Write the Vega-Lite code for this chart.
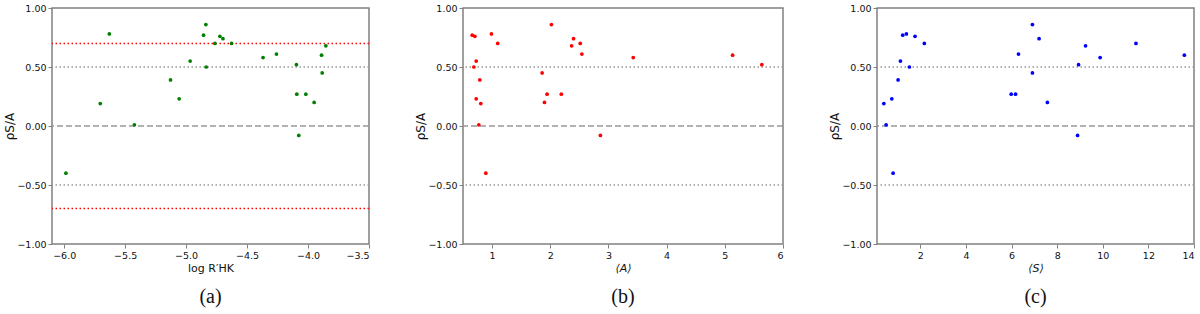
{
  "$schema": "https://vega.github.io/schema/vega-lite/v6.json",
  "background": "white",
  "padding": {"left": 3, "top": 2, "right": 0, "bottom": 0},
  "autosize": {"type": "pad"},
  "datasets": {
    "pa": [
      {"logRHK": -5.986, "rho": -0.40},
      {"logRHK": -5.704, "rho": 0.19},
      {"logRHK": -5.630, "rho": 0.78},
      {"logRHK": -5.424, "rho": 0.01},
      {"logRHK": -5.128, "rho": 0.39},
      {"logRHK": -5.057, "rho": 0.23},
      {"logRHK": -4.967, "rho": 0.55},
      {"logRHK": -4.857, "rho": 0.77},
      {"logRHK": -4.838, "rho": 0.86},
      {"logRHK": -4.835, "rho": 0.50},
      {"logRHK": -4.764, "rho": 0.70},
      {"logRHK": -4.723, "rho": 0.76},
      {"logRHK": -4.698, "rho": 0.74},
      {"logRHK": -4.627, "rho": 0.70},
      {"logRHK": -4.369, "rho": 0.58},
      {"logRHK": -4.259, "rho": 0.61},
      {"logRHK": -4.095, "rho": 0.52},
      {"logRHK": -4.092, "rho": 0.27},
      {"logRHK": -4.076, "rho": -0.08},
      {"logRHK": -4.018, "rho": 0.27},
      {"logRHK": -3.950, "rho": 0.20},
      {"logRHK": -3.889, "rho": 0.60},
      {"logRHK": -3.884, "rho": 0.45},
      {"logRHK": -3.854, "rho": 0.68}
    ],
    "pb": [
      {"A": 0.658, "rho": 0.77},
      {"A": 0.704, "rho": 0.76},
      {"A": 0.687, "rho": 0.50},
      {"A": 0.727, "rho": 0.55},
      {"A": 0.789, "rho": 0.39},
      {"A": 0.727, "rho": 0.23},
      {"A": 0.806, "rho": 0.19},
      {"A": 0.772, "rho": 0.01},
      {"A": 0.892, "rho": -0.40},
      {"A": 0.989, "rho": 0.78},
      {"A": 1.097, "rho": 0.70},
      {"A": 1.860, "rho": 0.45},
      {"A": 1.900, "rho": 0.20},
      {"A": 1.945, "rho": 0.27},
      {"A": 2.020, "rho": 0.86},
      {"A": 2.190, "rho": 0.27},
      {"A": 2.367, "rho": 0.68},
      {"A": 2.400, "rho": 0.74},
      {"A": 2.515, "rho": 0.70},
      {"A": 2.543, "rho": 0.61},
      {"A": 2.862, "rho": -0.08},
      {"A": 3.426, "rho": 0.58},
      {"A": 5.134, "rho": 0.60},
      {"A": 5.636, "rho": 0.52}
    ],
    "pc": [
      {"S": 0.40, "rho": 0.19},
      {"S": 0.50, "rho": 0.01},
      {"S": 0.749, "rho": 0.23},
      {"S": 0.807, "rho": -0.40},
      {"S": 1.025, "rho": 0.39},
      {"S": 1.127, "rho": 0.55},
      {"S": 1.229, "rho": 0.77},
      {"S": 1.389, "rho": 0.78},
      {"S": 1.520, "rho": 0.50},
      {"S": 1.767, "rho": 0.76},
      {"S": 2.175, "rho": 0.70},
      {"S": 5.985, "rho": 0.27},
      {"S": 6.175, "rho": 0.27},
      {"S": 6.305, "rho": 0.61},
      {"S": 6.916, "rho": 0.86},
      {"S": 6.916, "rho": 0.45},
      {"S": 7.207, "rho": 0.74},
      {"S": 7.571, "rho": 0.20},
      {"S": 8.895, "rho": -0.08},
      {"S": 8.938, "rho": 0.52},
      {"S": 9.244, "rho": 0.68},
      {"S": 9.884, "rho": 0.58},
      {"S": 11.455, "rho": 0.70},
      {"S": 13.578, "rho": 0.60}
    ],
    "refs": [
      {"rho": 0.5, "style": "dotted"},
      {"rho": -0.5, "style": "dotted"},
      {"rho": 0.0, "style": "dashed"}
    ],
    "red": [
      {"rho": 0.7},
      {"rho": -0.7}
    ]
  },
  "bounds": "flush",
  "spacing": 94,
  "hconcat": [
    {
      "width": 317,
      "height": 236,
      "title": {"text": "(a)"},
      "layer": [
        {
          "data": {"name": "refs"},
          "transform": [{"filter": "datum.style === 'dotted'"}],
          "mark": {"type": "rule", "color": "#999999", "strokeDash": [1.5, 2.5], "strokeWidth": 1.5},
          "encoding": {
            "y": {"field": "rho", "type": "quantitative", "scale": {"domain": [-1, 1], "nice": false},
                  "axis": {"values": [-1, -0.75, -0.5, -0.25, 0, 0.25, 0.5, 0.75, 1], "format": ".2f", "title": "ρS/A"}}
          }
        },
        {
          "data": {"name": "refs"},
          "transform": [{"filter": "datum.style === 'dashed'"}],
          "mark": {"type": "rule", "color": "#999999", "strokeDash": [6, 3], "strokeWidth": 1.5},
          "encoding": {"y": {"field": "rho", "type": "quantitative"}}
        },
        {
          "data": {"name": "red"},
          "mark": {"type": "rule", "color": "#ff0000", "strokeDash": [1.5, 2.5], "strokeWidth": 1.5},
          "encoding": {"y": {"field": "rho", "type": "quantitative"}}
        },
        {
          "data": {"name": "pa"},
          "mark": {"type": "circle", "color": "#008000", "opacity": 1, "size": 14},
          "encoding": {
            "x": {"field": "logRHK", "type": "quantitative", "scale": {"domain": [-6.1, -3.5], "nice": false, "zero": false},
                  "axis": {"values": [-6, -5.5, -5, -4.5, -4, -3.5], "format": ".1f", "title": "log R′HK"}},
            "y": {"field": "rho", "type": "quantitative"}
          }
        }
      ]
    },
    {
      "width": 320,
      "height": 236,
      "title": {"text": "(b)"},
      "layer": [
        {
          "data": {"name": "refs"},
          "transform": [{"filter": "datum.style === 'dotted'"}],
          "mark": {"type": "rule", "color": "#999999", "strokeDash": [1.5, 2.5], "strokeWidth": 1.5},
          "encoding": {
            "y": {"field": "rho", "type": "quantitative", "scale": {"domain": [-1, 1], "nice": false},
                  "axis": {"values": [-1, -0.75, -0.5, -0.25, 0, 0.25, 0.5, 0.75, 1], "format": ".2f", "title": "ρS/A"}}
          }
        },
        {
          "data": {"name": "refs"},
          "transform": [{"filter": "datum.style === 'dashed'"}],
          "mark": {"type": "rule", "color": "#999999", "strokeDash": [6, 3], "strokeWidth": 1.5},
          "encoding": {"y": {"field": "rho", "type": "quantitative"}}
        },
        {
          "data": {"name": "pb"},
          "mark": {"type": "circle", "color": "#ff0000", "opacity": 1, "size": 14},
          "encoding": {
            "x": {"field": "A", "type": "quantitative", "scale": {"domain": [0.5, 6], "nice": false, "zero": false},
                  "axis": {"values": [1, 2, 3, 4, 5, 6], "format": "d", "title": "⟨A⟩", "titleFontStyle": "italic"}},
            "y": {"field": "rho", "type": "quantitative"}
          }
        }
      ]
    },
    {
      "width": 317,
      "height": 236,
      "title": {"text": "(c)"},
      "layer": [
        {
          "data": {"name": "refs"},
          "transform": [{"filter": "datum.style === 'dotted'"}],
          "mark": {"type": "rule", "color": "#999999", "strokeDash": [1.5, 2.5], "strokeWidth": 1.5},
          "encoding": {
            "y": {"field": "rho", "type": "quantitative", "scale": {"domain": [-1, 1], "nice": false},
                  "axis": {"values": [-1, -0.75, -0.5, -0.25, 0, 0.25, 0.5, 0.75, 1], "format": ".2f", "title": "ρS/A"}}
          }
        },
        {
          "data": {"name": "refs"},
          "transform": [{"filter": "datum.style === 'dashed'"}],
          "mark": {"type": "rule", "color": "#999999", "strokeDash": [6, 3], "strokeWidth": 1.5},
          "encoding": {"y": {"field": "rho", "type": "quantitative"}}
        },
        {
          "data": {"name": "pc"},
          "mark": {"type": "circle", "color": "#0000ff", "opacity": 1, "size": 14},
          "encoding": {
            "x": {"field": "S", "type": "quantitative", "scale": {"domain": [0.1, 14], "nice": false, "zero": false},
                  "axis": {"values": [2, 4, 6, 8, 10, 12, 14], "format": "d", "title": "⟨S⟩", "titleFontStyle": "italic"}},
            "y": {"field": "rho", "type": "quantitative"}
          }
        }
      ]
    }
  ],
  "config": {
    "view": {"stroke": "#808080", "strokeWidth": 1.5},
    "axis": {
      "grid": false,
      "domain": false,
      "tickColor": "#808080",
      "tickSize": 4,
      "tickWidth": 1,
      "labelFont": "DejaVu Sans",
      "labelFontSize": 9.5,
      "labelColor": "#111111",
      "labelPadding": 2,
      "titleFont": "DejaVu Sans",
      "titleFontSize": 11,
      "titleFontWeight": "normal",
      "titleColor": "#111111",
      "titlePadding": 3
    },
    "axisY": {"titlePadding": 0, "titleFontSize": 12},
    "title": {"font": "Liberation Serif", "fontSize": 20, "fontWeight": "normal", "color": "#111111", "orient": "bottom", "offset": 13, "anchor": "middle"}
  }
}
